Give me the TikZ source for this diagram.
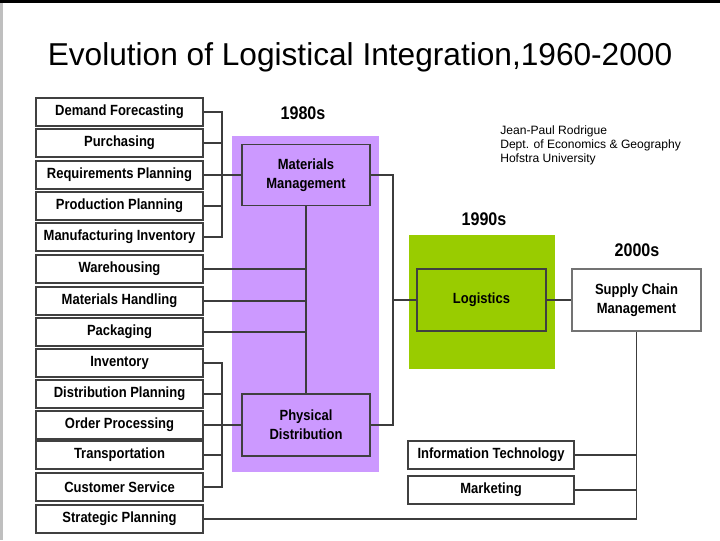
\documentclass[tikz,border=0pt]{standalone}
\usepackage{fontspec}
\setmainfont{Liberation Sans}
\newfontfamily\boxfont[FakeStretch=0.88]{Liberation Sans}
\usepackage{xcolor}
\usepackage{tikz}
\usetikzlibrary{calc,positioning}
\definecolor{eighties}{RGB}{204,153,255}
\definecolor{nineties}{RGB}{153,204,0}
\definecolor{edge}{RGB}{64,64,64}
\definecolor{wirecol}{RGB}{60,60,60}
\tikzset{
  block/.style={
    draw=edge,
    line width=1.1pt,
    align=center,
    inner sep=1pt,
    font=\boxfont\fontsize{10.5}{13.5}\selectfont\bfseries
  },
  item/.style={block, fill=white, minimum width=41.75mm, minimum height=7mm},
  stage/.style={block, minimum width=32mm, minimum height=15.25mm},
  era/.style={font=\boxfont\fontsize{13}{15}\selectfont\bfseries},
  wire/.style={line width=0.8pt, draw=wirecol}
}

\begin{document}
\begin{tikzpicture}[
      x=0.025cm,
      y=-0.025cm,
      note/.style={align=left, font=\fontsize{8.6}{10}\selectfont, inner sep=0pt}
    ]
    \useasboundingbox (0,0) rectangle (720,540);
    \fill[white] (0,0) rectangle (720,540);
    \fill[black] (0,0) rectangle (720,3);
    \fill[black!25] (0,3) rectangle (3,540);

    \node[font=\fontsize{22.5}{26}\selectfont] (title) at (360,57)
      {Evolution of Logistical Integration,1960-2000};
    \node[note, anchor=north west] (author) at (500,125)
      {Jean-Paul Rodrigue\\Dept. of Economics \& Geography\\Hofstra University};

    % coloured periods
    \fill[eighties] (232,136) rectangle (379,472);
    \fill[nineties] (409,235) rectangle (555,369);
    \node[era] (e80) at (303,113) {1980s};
    \node[era] (e90) at (484,219) {1990s};
    \node[era] (e00) at (637,250) {2000s};

    % activities
    \node[item] (dem) at (119.5,112) {Demand Forecasting};
    \node[item] (purch) at (119.5,143) {Purchasing};
    \node[item] (req) at (119.5,175) {Requirements Planning};
    \node[item] (prod) at (119.5,206) {Production Planning};
    \node[item] (manu) at (119.5,237) {Manufacturing Inventory};
    \node[item] (ware) at (119.5,269) {Warehousing};
    \node[item] (handl) at (119.5,301) {Materials Handling};
    \node[item] (pack) at (119.5,332) {Packaging};
    \node[item] (inv) at (119.5,363) {Inventory};
    \node[item] (dist) at (119.5,394) {Distribution Planning};
    \node[item] (order) at (119.5,425) {Order Processing};
    \node[item] (trans) at (119.5,455) {Transportation};
    \node[item] (cust) at (119.5,487) {Customer Service};
    \node[item] (strat) at (119.5,519) {Strategic Planning};
    \node[item, minimum width=41.5mm] (it) at (491,455) {Information Technology};
    \node[item, minimum width=41.5mm] (mkt) at (491,490) {Marketing};

    % integrated functions
    \node[stage, fill=eighties] (mm) at (306,175) {Materials\\Management};
    \node[stage, fill=eighties, minimum height=15.5mm] (pd) at (306,425) {Physical\\Distribution};
    \node[stage, fill=nineties, minimum width=32.25mm, minimum height=15.5mm] (log) at (481.5,300) {Logistics};
    \node[stage, fill=white, draw=black!55, line width=1.6pt, minimum width=32.25mm, minimum height=15.5mm]
      (scm) at (636.5,300) {Supply Chain\\Management};

    \coordinate (matTop) at (222,112);
    \coordinate (matBot) at (222,237);
    \coordinate (phyTop) at (222,363);
    \coordinate (phyBot) at (222,487);
    \coordinate (lbusTop) at (393,175);
    \coordinate (lbusBot) at (393,425);

    \draw[wire] (dem.east) -- (matTop) -- (matBot) -- (manu.east);
    \draw[wire] (purch.east) -- (purch.east -| matTop);
    \draw[wire] (prod.east) -- (prod.east -| matTop);
    \draw[wire] (req.east) -- (mm.west);

    \draw[wire] (mm.south) -- (pd.north);
    \draw[wire] (ware.east) -- (ware.east -| mm.south);
    \draw[wire] (handl.east) -- (handl.east -| mm.south);
    \draw[wire] (pack.east) -- (pack.east -| mm.south);

    \draw[wire] (inv.east) -- (phyTop) -- (phyBot) -- (cust.east);
    \draw[wire] (dist.east) -- (dist.east -| phyTop);
    \draw[wire] (trans.east) -- (trans.east -| phyTop);
    \draw[wire] (order.east) -- (pd.west);

    \draw[wire] (mm.east) -- (lbusTop) -- (lbusBot) -- (pd.east);
    \draw[wire] (log.west) -- (log.west -| lbusTop);
    \draw[wire] (log.east) -- (scm.west);

    \draw[wire] (scm.south) |- (strat.east);
    \draw[wire] (it.east) -- (it.east -| scm.south);
    \draw[wire] (mkt.east) -- (mkt.east -| scm.south);
  \end{tikzpicture}
\end{document}
